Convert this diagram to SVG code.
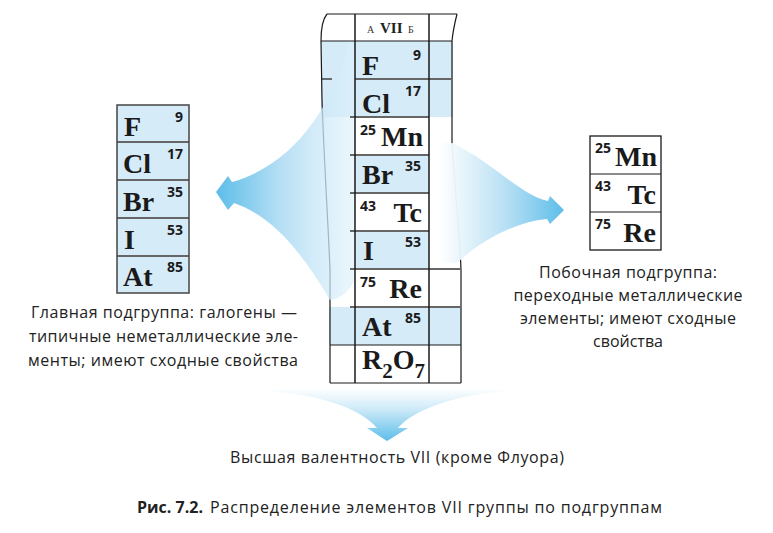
<svg xmlns="http://www.w3.org/2000/svg" width="773" height="533" viewBox="0 0 773 533">
<defs>
<linearGradient id="gL" gradientUnits="userSpaceOnUse" x1="216" y1="0" x2="355" y2="0">
<stop offset="0" stop-color="#5cbde9"/>
<stop offset="0.45" stop-color="#b4def4"/>
<stop offset="1" stop-color="#dff1fb" stop-opacity="0.6"/>
</linearGradient>
<linearGradient id="gR" gradientUnits="userSpaceOnUse" x1="440" y1="0" x2="565" y2="0">
<stop offset="0" stop-color="#ffffff" stop-opacity="0.95"/>
<stop offset="0.55" stop-color="#b4def4"/>
<stop offset="1" stop-color="#5cbde9"/>
</linearGradient>
<linearGradient id="gB" gradientUnits="userSpaceOnUse" x1="0" y1="388" x2="0" y2="441">
<stop offset="0" stop-color="#ffffff" stop-opacity="0.9"/>
<stop offset="0.4" stop-color="#cdeaf8"/>
<stop offset="1" stop-color="#5cbde9"/>
</linearGradient>
</defs>
<style>
.el{font-family:"Liberation Serif","Times New Roman",serif;font-weight:bold;font-size:28px;fill:#1a1a1a}
.num{font-family:"Open Sans","DejaVu Sans",sans-serif;font-weight:bold;font-size:14px;fill:#1a1a1a}
.sub{font-family:"Liberation Serif","Times New Roman",serif;font-weight:bold;font-size:21px;fill:#1a1a1a}
.hd{font-family:"Liberation Serif","Times New Roman",serif;fill:#333;font-size:10px}
.hdb{font-family:"Liberation Serif","Times New Roman",serif;font-weight:bold;fill:#222;font-size:15px}
.txt{font-family:"Open Sans","Noto Sans",sans-serif;font-size:16px;fill:#222}
.cap{font-family:"Open Sans","Noto Sans",sans-serif;font-size:16px;fill:#222}
.blue{fill:#d5ebf8}
.white{fill:#ffffff}
.frame{fill:none;stroke:#1a1a1a;stroke-width:1.2}
.sep{stroke:#666;stroke-width:2}
.col{stroke:#1a1a1a;stroke-width:1.5}
</style>

<g id="center-bg">
<rect class="blue" x="321" y="41" width="132" height="76"/>
<rect class="blue" x="329" y="307" width="132" height="38"/>
<path class="frame" d="M327,14 C322,20 321,30 321,41 L322,100 C324,160 328,220 330,270 L330,383"/>
<path class="frame" d="M457,14 C455,22 453,30 452,41 L452,145 C456,200 460,240 461,270 L461,383"/>
</g>

<g id="connectors">
<path id="arrow-left" fill="url(#gL)" d="M349,41 C332,110 292,165 232,182 L228,176 L216,192 L228,210 L234,203 C272,216 302,252 330,300 C340,300 350,290 355,280 L355,41 Z"/>
<path id="arrow-right" fill="url(#gR)" d="M429,140 L452,143 C490,160 520,195 548,201 L550,196 L564,210 L550,224 L547,219 C515,222 482,240 457,263 L429,263 Z"/>
<path id="arrow-down" fill="url(#gB)" d="M257,390 C320,394 360,408 377,428 L367,428 L387,441 L408,428 L398,428 C415,408 460,394 517,390 Z"/>
</g>

<g id="center-table">
<rect class="white" x="355" y="14" width="74" height="27"/>
<rect class="blue" x="355" y="41" width="74" height="76"/>
<rect class="white" x="355" y="117" width="74" height="38"/>
<rect class="blue" x="355" y="155" width="74" height="38"/>
<rect class="white" x="355" y="193" width="74" height="38"/>
<rect class="blue" x="355" y="231" width="74" height="38"/>
<rect class="white" x="355" y="269" width="74" height="38"/>
<rect class="blue" x="355" y="307" width="74" height="38"/>
<rect class="white" x="355" y="345" width="74" height="38"/>
<line class="frame" x1="327" y1="14" x2="457" y2="14"/>
<line class="frame" x1="321" y1="41" x2="452" y2="41"/>
<line class="frame" x1="321" y1="79" x2="332" y2="79"/>
<line class="sep" x1="355" y1="79" x2="452" y2="79"/>
<line class="sep" x1="350" y1="117" x2="429" y2="117"/>
<line class="sep" x1="350" y1="155" x2="429" y2="155"/>
<line class="sep" x1="350" y1="193" x2="429" y2="193"/>
<line class="sep" x1="350" y1="231" x2="429" y2="231"/>
<line class="sep" x1="350" y1="269" x2="461" y2="269"/>
<line class="sep" x1="350" y1="307" x2="461" y2="307"/>
<line class="frame" x1="330" y1="345" x2="461" y2="345"/>
<line class="frame" x1="330" y1="383" x2="461" y2="383"/>
<line class="col" x1="355" y1="14" x2="355" y2="383"/>
<line class="col" x1="429" y1="14" x2="429" y2="383"/>
<text class="hd" x="367" y="33">А</text>
<text class="hdb" x="380" y="33">VII</text>
<text class="hd" x="408" y="33">Б</text>
<text class="el" x="362" y="75">F</text><text class="num" x="421" y="60" text-anchor="end">9</text>
<text class="el" x="362" y="113">Cl</text><text class="num" x="421" y="96" text-anchor="end">17</text>
<text class="num" x="360" y="135">25</text><text class="el" x="423" y="146" text-anchor="end">Mn</text>
<text class="el" x="362" y="184">Br</text><text class="num" x="421" y="171" text-anchor="end">35</text>
<text class="num" x="360" y="211">43</text><text class="el" x="422" y="222" text-anchor="end">Tc</text>
<text class="el" x="363" y="260">I</text><text class="num" x="421" y="247" text-anchor="end">53</text>
<text class="num" x="360" y="287">75</text><text class="el" x="422" y="298" text-anchor="end">Re</text>
<text class="el" x="362" y="336">At</text><text class="num" x="421" y="323" text-anchor="end">85</text>
<text class="el" x="362" y="369">R<tspan class="sub" dy="9">2</tspan><tspan dy="-9">O</tspan><tspan class="sub" dy="9">7</tspan></text>
</g>

<g id="left-table">
<rect class="blue" x="117" y="105" width="72" height="188"/>
<line class="sep" x1="117" y1="142" x2="189" y2="142"/>
<line class="sep" x1="117" y1="180" x2="189" y2="180"/>
<line class="sep" x1="117" y1="218" x2="189" y2="218"/>
<line class="sep" x1="117" y1="256" x2="189" y2="256"/>
<rect x="117" y="105" width="72" height="188" fill="none" stroke="#444" stroke-width="1.5"/>
<text class="el" x="124" y="136">F</text><text class="num" x="183" y="122" text-anchor="end">9</text>
<text class="el" x="123" y="173">Cl</text><text class="num" x="183" y="159" text-anchor="end">17</text>
<text class="el" x="123" y="211">Br</text><text class="num" x="183" y="197" text-anchor="end">35</text>
<text class="el" x="124" y="249">I</text><text class="num" x="183" y="235" text-anchor="end">53</text>
<text class="el" x="123" y="286">At</text><text class="num" x="183" y="272" text-anchor="end">85</text>
</g>

<g id="right-table">
<rect x="590" y="136" width="71" height="114" fill="#fff" stroke="#1a1a1a" stroke-width="1.3"/>
<line class="frame" x1="590" y1="174" x2="661" y2="174"/>
<line class="frame" x1="590" y1="212" x2="661" y2="212"/>
<text class="num" x="595" y="153">25</text><text class="el" x="657" y="166" text-anchor="end">Mn</text>
<text class="num" x="595" y="191">43</text><text class="el" x="656" y="204" text-anchor="end">Tc</text>
<text class="num" x="595" y="229">75</text><text class="el" x="656" y="242" text-anchor="end">Re</text>
</g>

<g id="label-left">
<text class="txt" x="31" y="318" textLength="266" lengthAdjust="spacing">Главная подгруппа: галогены —</text>
<text class="txt" x="29" y="342" textLength="269" lengthAdjust="spacing">типичные неметаллические эле-</text>
<text class="txt" x="28" y="366" textLength="270" lengthAdjust="spacing">менты; имеют сходные свойства</text>
</g>

<g id="label-right">
<text class="txt" x="628" y="278" text-anchor="middle" textLength="178" lengthAdjust="spacing">Побочная подгруппа:</text>
<text class="txt" x="628" y="301" text-anchor="middle" textLength="229" lengthAdjust="spacing">переходные металлические</text>
<text class="txt" x="628" y="324" text-anchor="middle" textLength="216" lengthAdjust="spacing">элементы; имеют сходные</text>
<text class="txt" x="628" y="347" text-anchor="middle">свойства</text>
</g>

<g id="label-bottom">
<text class="txt" x="230" y="463" textLength="334" lengthAdjust="spacing">Высшая валентность VII (кроме Флуора)</text>
</g>

<g id="caption">
<text class="cap" x="137" y="513" font-weight="bold" font-size="17">Рис. 7.2.</text>
<text class="cap" x="210" y="513" textLength="452" lengthAdjust="spacing">Распределение элементов VII группы по подгруппам</text>
</g>
</svg>
